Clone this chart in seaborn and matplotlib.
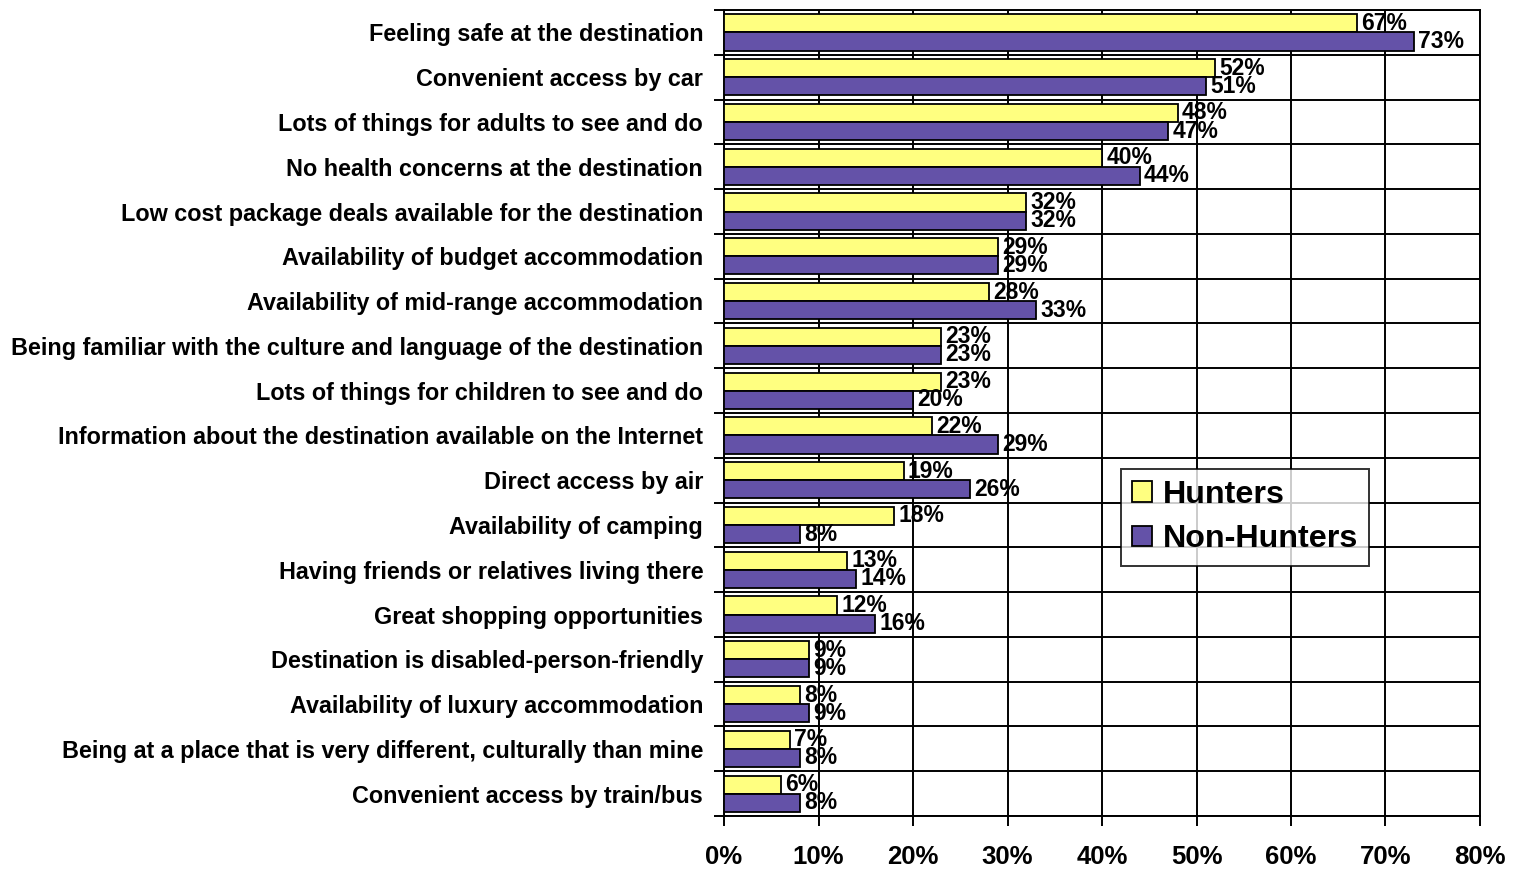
import numpy as np
import pandas as pd
import matplotlib
matplotlib.use("Agg")
import matplotlib.pyplot as plt
import seaborn as sns

# --- data ---
factors = [
    "Feeling safe at the destination",
    "Convenient access by car",
    "Lots of things for adults to see and do",
    "No health concerns at the destination",
    "Low cost package deals available for the destination",
    "Availability of budget accommodation",
    "Availability of mid-range accommodation",
    "Being familiar with the culture and language of the destination",
    "Lots of things for children to see and do",
    "Information about the destination available on the Internet",
    "Direct access by air",
    "Availability of camping",
    "Having friends or relatives living there",
    "Great shopping opportunities",
    "Destination is disabled-person-friendly",
    "Availability of luxury accommodation",
    "Being at a place that is very different, culturally than mine",
    "Convenient access by train/bus",
]
hunters     = [67, 52, 48, 40, 32, 29, 28, 23, 23, 22, 19, 18, 13, 12, 9, 8, 7, 6]
non_hunters = [73, 51, 47, 44, 32, 29, 33, 23, 20, 29, 26, 8, 14, 16, 9, 9, 8, 8]
groups = ["Hunters", "Non-Hunters"]
x_ticks = [0, 10, 20, 30, 40, 50, 60, 70, 80]

df = pd.DataFrame({
    "factor": factors * 2,
    "group": [groups[0]] * len(factors) + [groups[1]] * len(factors),
    "pct": hunters + non_hunters,
})

sns.set_style("white")
plt.rcParams["font.family"] = ["Liberation Sans", "DejaVu Sans"]
plt.rcParams["font.weight"] = "bold"
plt.rcParams["text.color"] = "black"
plt.rcParams["xtick.color"] = "black"
plt.rcParams["ytick.color"] = "black"
plt.rcParams["xtick.labelcolor"] = "black"
plt.rcParams["ytick.labelcolor"] = "black"

fig = plt.figure(figsize=(15.22, 8.71), dpi=100)
ax = fig.add_axes([0.4757, 0.0631, 0.4967, 0.9254])

palette = {"Hunters": "#FFFF80", "Non-Hunters": "#6452A8"}
sns.barplot(
    data=df, y="factor", x="pct", hue="group", hue_order=groups,
    order=factors, palette=palette, orient="h", width=0.81,
    edgecolor="black", linewidth=1.3, saturation=1, ax=ax, zorder=3,
)

n = len(factors)
ax.set_xlim(0, 80)
ax.set_ylim(n - 0.5, -0.5)

# vertical grid + horizontal separators between categories
ax.set_xticks(x_ticks)
ax.set_xticklabels([f"{v}%" for v in x_ticks], fontsize=18.5, fontweight="bold")
ax.xaxis.grid(True, color="black", linewidth=1.4, zorder=0)
for b in np.arange(-0.5, n, 1.0):
    ax.axhline(b, color="black", linewidth=1.4, zorder=1)

ax.set_yticks(range(n))
ax.set_yticklabels(factors, fontsize=16.8, fontweight="bold")
ax.set_yticks(np.arange(-0.5, n, 1.0), minor=True)
ax.tick_params(axis="y", which="major", left=True, length=0, pad=15)
ax.tick_params(axis="y", which="minor", left=True, length=7, width=1.4,
               color="black", direction="out")
ax.tick_params(axis="x", which="major", bottom=True, length=7, width=1.4,
               color="black", direction="out", pad=14)
ax.set_xlabel("")
ax.set_ylabel("")

for s in ax.spines.values():
    s.set_color("black")
    s.set_linewidth(1.4)

for cont in ax.containers:
    ax.bar_label(cont, fmt="%d%%", padding=3, fontsize=16.5, fontweight="bold",
                 color="black", zorder=5)

leg = ax.legend(
    loc="upper left", bbox_to_anchor=(0.525, 0.431),
    prop={"weight": "bold", "size": 23.2}, frameon=True, fancybox=False,
    edgecolor="black", handlelength=0.6, handleheight=0.6, handletextpad=0.35,
    borderpad=0.35, labelspacing=0.45, borderaxespad=0,
)
leg.get_frame().set_linewidth(1.4)
for t in leg.get_texts():
    t.set_color("black")
for h in leg.legend_handles:
    h.set_edgecolor("black")
    h.set_linewidth(1.3)

fig.savefig("out.png", dpi=100)
